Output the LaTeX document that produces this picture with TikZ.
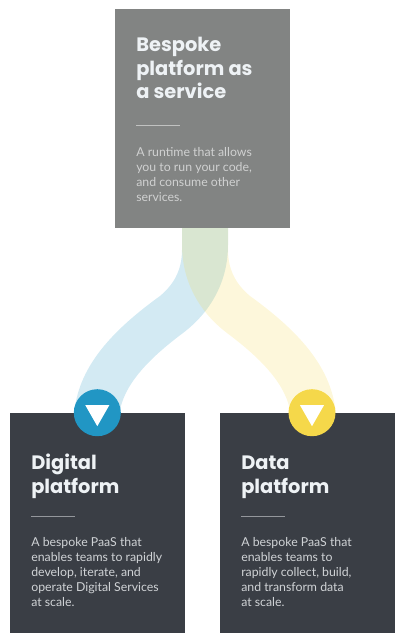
\documentclass[tikz,border=0pt]{standalone}
\usepackage{fontspec}
\setmainfont{Lato}
\newfontfamily\headfont{Poppins}
\usetikzlibrary{calc}
\definecolor{slatebox}{HTML}{3A3E45}
\definecolor{greybox}{HTML}{828483}
\definecolor{bluedot}{HTML}{2196C4}
\definecolor{yellowdot}{HTML}{F5D84A}
\definecolor{headtext}{HTML}{EEF2F5}
\definecolor{greytext}{HTML}{D0D1D1}
\definecolor{slatetext}{HTML}{D0D3D6}

\begin{document}
\begin{tikzpicture}[x=0.025cm,y=-0.025cm,
                        card/.style={inner sep=0,minimum width=4.36cm,minimum height=5.5cm,anchor=north west},
                        title/.style={inner sep=0,anchor=base west,align=left,text=headtext,
                        font=\headfont\bfseries\fontsize{13.8}{16.9}\selectfont},
                        blurb/.style={inner sep=0,anchor=base west,align=left,
                        font=\fontsize{8.75}{10.5}\selectfont},
                        dot/.style={circle,inner sep=0,minimum size=1.175cm},
                        ribbon/.style={opacity=0.2}
                        ]
                        \useasboundingbox (0,0) rectangle (405,644);

                        \coordinate (stemleft) at (182,228);
                        \coordinate (stemright) at (228,228);

                        % ribbons
                        \fill[ribbon,bluedot] (stemleft) -- (182,250) .. controls (182,272) and (172,286) .. (160,296)
                                .. controls (113,330) and (80,365) .. (74.5,410) -- (120,410)
                                .. controls (126,380) and (155,354) .. (183,333)
                                .. controls (212,311) and (228,280) .. (228,245) -- (stemright) -- cycle;
                        \fill[ribbon,yellowdot] (stemright) -- (228,250) .. controls (228,272) and (238,286) .. (250,296)
                                .. controls (297,330) and (330,365) .. (335.5,410) -- (290,410)
                                .. controls (284,380) and (255,354) .. (227,333)
                                .. controls (198,311) and (182,280) .. (182,245) -- (stemleft) -- cycle;

                        % boxes
                        \node[card,fill=greybox,minimum height=5.475cm] (paas) at (115,9) {};
                        \node[card,fill=slatebox] (digital) at (10,413) {};
                        \node[card,fill=slatebox] (data) at (220,413) {};

                        % top box
                        \node[title] (paastitle) at (136,99) {Bespoke\\platform as\\a service};
                        \draw[greytext!80!greybox,line width=0.6] (136,125) -- (180,125);
                        \node[blurb,text=greytext] (paastext) at (136,201) {A runtime that allows\\you to run your code,\\and consume other\\services.};

                        % left box
                        \node[title] (digitaltitle) at (31,493) {Digital\\platform};
                        \draw[slatetext!60!slatebox,line width=0.6] (31,516) -- (75,516);
                        \node[blurb,text=slatetext] (digitaltext) at (31,606) {A bespoke PaaS that\\enables teams to rapidly\\develop, iterate, and\\operate Digital Services\\at scale.};

                        % right box
                        \node[title] (datatitle) at (241,493) {Data\\platform};
                        \draw[slatetext!60!slatebox,line width=0.6] (241,516) -- (285,516);
                        \node[blurb,text=slatetext] (datatext) at (241,606) {A bespoke PaaS that\\enables teams to\\rapidly collect, build,\\and transform data\\at scale.};

                        % dots
                        \node[dot,fill=bluedot] (bluemark) at (97.3,412.7) {};
                        \node[dot,fill=yellowdot] (yellowmark) at (312,412.7) {};
                        \fill[white] ($(bluemark)+(-12,-7.5)$) -- ++(24,0) -- ++(-12,21) -- cycle;
                        \fill[white] ($(yellowmark)+(-12,-7.5)$) -- ++(24,0) -- ++(-12,21) -- cycle;
                \end{tikzpicture}
\end{document}
